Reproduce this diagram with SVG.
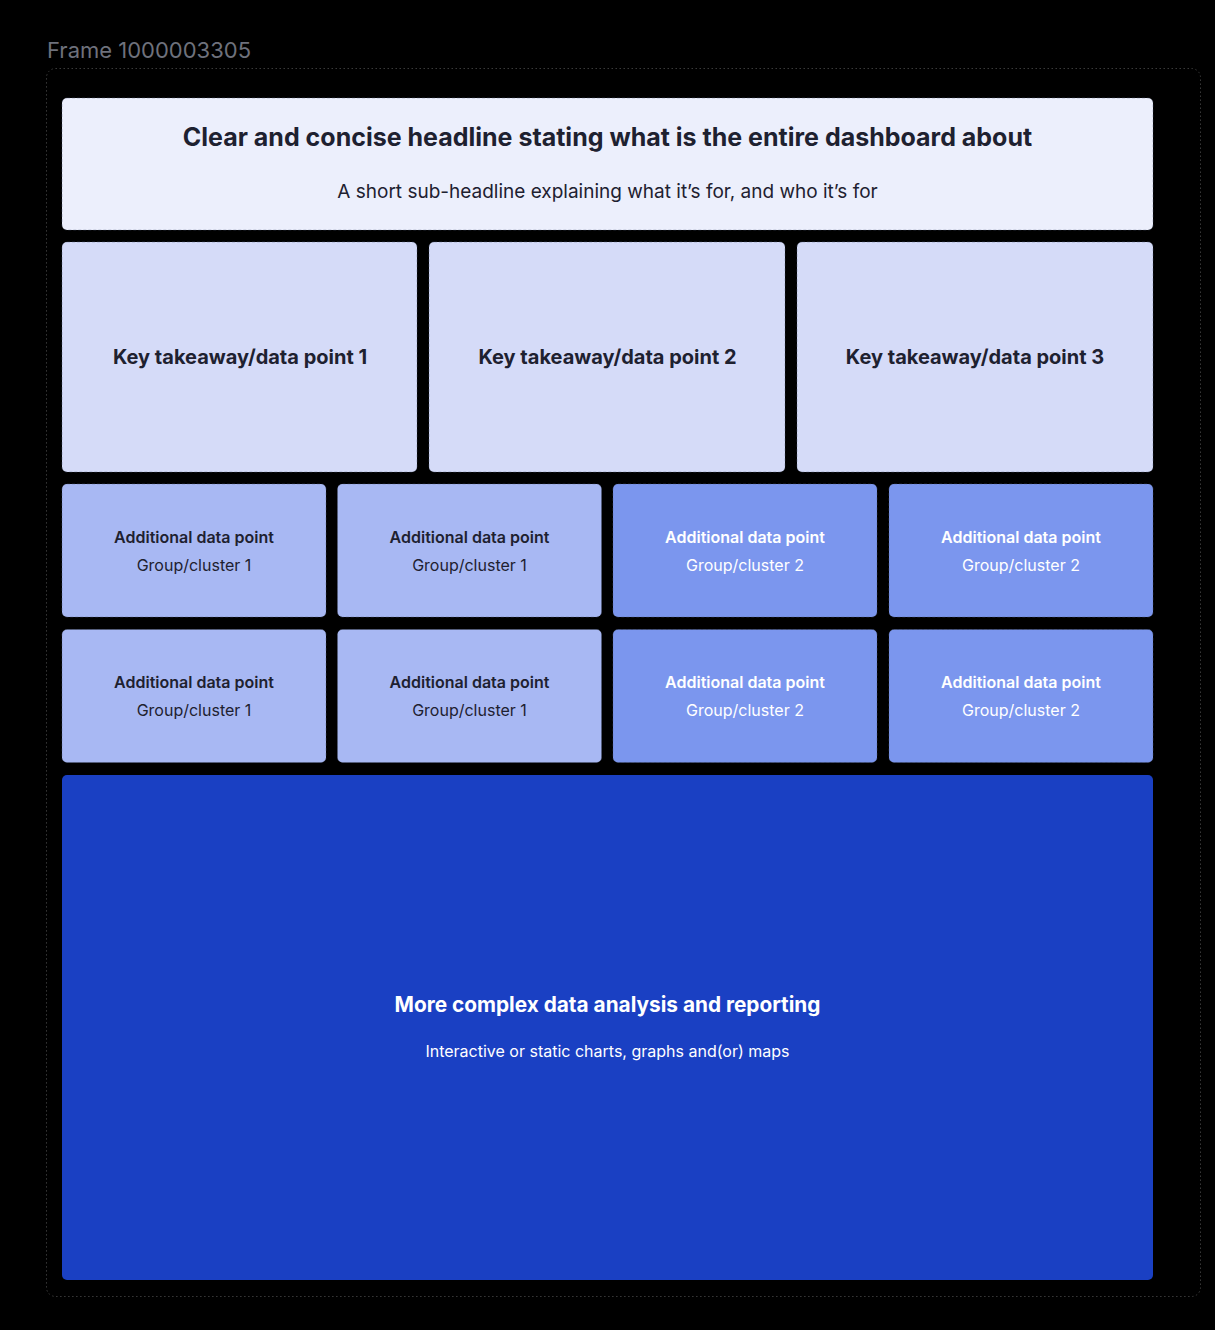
<svg xmlns="http://www.w3.org/2000/svg" width="1215" height="1330" viewBox="0 0 1215 1330">
<style>
text{font-family:Inter,"Liberation Sans",sans-serif;text-anchor:middle}
.c{stroke:#5a6384;stroke-opacity:.35;stroke-width:1;stroke-dasharray:3 2}
.h{fill:#ECEFFC}.k{fill:#D5DBF8}.g1{fill:#A8B8F3}.g2{fill:#7B96EE}.big{fill:#1A40C3}
.dk{fill:#1E2130}.wt{fill:#ffffff}
.b{font-weight:700}
.t1{font-size:16px;font-weight:600}.t2{font-size:16px}
</style>
<rect width="1215" height="1330" fill="#000"/>
<text x="47" y="58" font-size="22" fill="#6E717C" style="text-anchor:start">Frame 1000003305</text>
<rect x="46.5" y="68.5" width="1154" height="1228" rx="9" fill="none" stroke="#3a3a3a" stroke-width="1" stroke-dasharray="1.5 2.5"/>
<g id="header">
<rect class="h c" x="62" y="98" width="1091" height="132" rx="5"/>
<text class="dk b" x="607.5" y="146" font-size="25">Clear and concise headline stating what is the entire dashboard about</text>
<text class="dk" x="607.5" y="198" font-size="19">A short sub-headline explaining what it’s for, and who it’s for</text>
</g>
<g id="key1"><rect class="k c" x="62" y="242" width="355" height="230" rx="5"/><text class="dk b" x="240" y="364" font-size="20">Key takeaway/data point 1</text></g>
<g id="key2"><rect class="k c" x="429" y="242" width="356" height="230" rx="5"/><text class="dk b" x="607.5" y="364" font-size="20">Key takeaway/data point 2</text></g>
<g id="key3"><rect class="k c" x="797" y="242" width="356" height="230" rx="5"/><text class="dk b" x="975" y="364" font-size="20">Key takeaway/data point 3</text></g>
<g id="a1"><rect class="g1 c" x="62" y="484" width="264" height="133" rx="5"/><text class="dk t1" x="194" y="543">Additional data point</text><text class="dk t2" x="194" y="571">Group/cluster 1</text></g>
<g id="a2"><rect class="g1 c" x="337.5" y="484" width="264" height="133" rx="5"/><text class="dk t1" x="469.5" y="543">Additional data point</text><text class="dk t2" x="469.5" y="571">Group/cluster 1</text></g>
<g id="a3"><rect class="g2 c" x="613" y="484" width="264" height="133" rx="5"/><text class="wt t1" x="745" y="543">Additional data point</text><text class="wt t2" x="745" y="571">Group/cluster 2</text></g>
<g id="a4"><rect class="g2 c" x="889" y="484" width="264" height="133" rx="5"/><text class="wt t1" x="1021" y="543">Additional data point</text><text class="wt t2" x="1021" y="571">Group/cluster 2</text></g>
<g id="a5"><rect class="g1 c" x="62" y="629.5" width="264" height="133" rx="5"/><text class="dk t1" x="194" y="688">Additional data point</text><text class="dk t2" x="194" y="716">Group/cluster 1</text></g>
<g id="a6"><rect class="g1 c" x="337.5" y="629.5" width="264" height="133" rx="5"/><text class="dk t1" x="469.5" y="688">Additional data point</text><text class="dk t2" x="469.5" y="716">Group/cluster 1</text></g>
<g id="a7"><rect class="g2 c" x="613" y="629.5" width="264" height="133" rx="5"/><text class="wt t1" x="745" y="688">Additional data point</text><text class="wt t2" x="745" y="716">Group/cluster 2</text></g>
<g id="a8"><rect class="g2 c" x="889" y="629.5" width="264" height="133" rx="5"/><text class="wt t1" x="1021" y="688">Additional data point</text><text class="wt t2" x="1021" y="716">Group/cluster 2</text></g>
<g id="main"><rect class="big" x="62" y="775" width="1091" height="505" rx="5"/><text class="wt b" x="607.5" y="1012" font-size="20.8">More complex data analysis and reporting</text><text class="wt t2" x="607.5" y="1057">Interactive or static charts, graphs and(or) maps</text></g>
<g id="connectors"/>
</svg>
